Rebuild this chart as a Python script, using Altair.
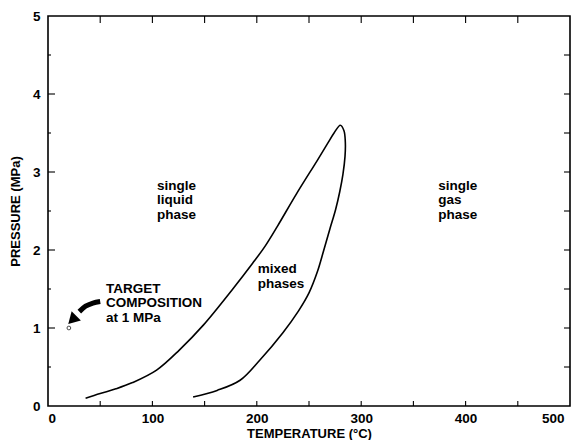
import altair as alt
import pandas as pd

# ---- data ----
curve_t = [36, 50, 65, 81, 104, 126, 149, 177, 196, 208, 220, 238, 258, 268, 274, 280,
           283.5, 284.8, 284.5, 282.5, 279.5, 275.5, 270, 264, 258, 250, 240, 225, 203, 184, 162, 139]
curve_p = [0.10, 0.16, 0.22, 0.30, 0.46, 0.72, 1.04, 1.50, 1.83, 2.05, 2.31, 2.72, 3.15, 3.37, 3.50, 3.60,
           3.53, 3.38, 3.20, 2.97, 2.75, 2.52, 2.27, 1.99, 1.72, 1.45, 1.22, 0.94, 0.59, 0.33, 0.20, 0.115]

target_t = [20]
target_p = [1.0]

arrow_t = [50, 43, 36, 30]
arrow_p = [1.34, 1.32, 1.28, 1.21]
head_t = [24.5]
head_p = [1.12]

x_label_values = [0, 100, 200, 300, 400, 500]
y_label_values = [0, 1, 2, 3, 4, 5]
x_tick_values = [50, 100, 150, 200, 250, 300, 350, 400, 450]
y_major_ticks = [1, 2, 3, 4]
y_minor_ticks = [0.5, 1.5, 2.5, 3.5, 4.5]
y_right_ticks = [0.5, 1, 1.5, 2, 2.5, 3, 3.5, 4, 4.5]

note_text = ["single\nliquid\nphase", "single\ngas\nphase", "mixed\nphases",
             "TARGET\nCOMPOSITION\nat 1 MPa"]
note_t = [104.4, 373.9, 201, 55.5]
note_p = [2.77, 2.77, 1.705, 1.453]

x_title = "TEMPERATURE (°C)"
y_title = "PRESSURE (MPa)"

W, H = 522, 390
FONT = "Liberation Sans"
xs = alt.Scale(domain=[0, 500], nice=False, zero=False)
ys = alt.Scale(domain=[0, 5], nice=False, zero=False)

x_axis = alt.Axis(values=x_label_values, ticks=False, domain=False, grid=False,
                  labelPadding=5, format="d",
                  labelOffset={"condition": {"test": "datum.value == 500", "value": -6},
                               "value": 0},
                  titleBaseline="alphabetic", titleY=31)
y_axis = alt.Axis(values=y_label_values, ticks=False, domain=False, grid=False,
                  labelPadding=8, titlePadding=10, format="d")


def X(f="t"):
    return alt.X(f + ":Q", scale=xs, title=x_title, axis=x_axis)


def Y(f="p"):
    return alt.Y(f + ":Q", scale=ys, title=y_title, axis=y_axis)


curve_df = pd.DataFrame({"t": curve_t, "p": curve_p, "o": list(range(len(curve_t)))})

curve = alt.Chart(curve_df).mark_line(
    color="black", strokeWidth=1.6, interpolate="catmull-rom"
).encode(x=X(), y=Y(), order="o:Q")

target = alt.Chart(pd.DataFrame({"t": target_t, "p": target_p})).mark_point(
    shape="circle", size=14, filled=False, color="black", strokeWidth=1
).encode(x=X(), y=Y())

arrow = alt.Chart(pd.DataFrame({"t": arrow_t, "p": arrow_p, "o": list(range(len(arrow_t)))})).mark_line(
    color="black", strokeWidth=5, interpolate="catmull-rom", strokeCap="butt"
).encode(x=X(), y=Y(), order="o:Q")

head = alt.Chart(pd.DataFrame({"t": head_t, "p": head_p})).mark_point(
    shape="triangle", angle=225, filled=True, size=170, color="black", opacity=1
).encode(x=X(), y=Y())

notes = alt.Chart(pd.DataFrame({"t": note_t, "p": note_p, "txt": note_text})).mark_text(
    align="left", baseline="alphabetic", font=FONT, fontSize=13.5, fontWeight="bold",
    lineHeight=14.5, lineBreak="\n", color="black"
).encode(x=X(), y=Y(), text="txt:N")

rule_kw = dict(color="black", strokeWidth=1.1)
top_ticks = alt.Chart(pd.DataFrame({"t": x_tick_values})).mark_rule(**rule_kw).encode(
    x=X(), y=alt.value(0), y2=alt.value(7))
bottom_ticks = alt.Chart(pd.DataFrame({"t": x_tick_values})).mark_rule(**rule_kw).encode(
    x=X(), y=alt.value(H), y2=alt.value(H - 5))
left_major = alt.Chart(pd.DataFrame({"p": y_major_ticks})).mark_rule(**rule_kw).encode(
    y=Y(), x=alt.value(0), x2=alt.value(7))
left_minor = alt.Chart(pd.DataFrame({"p": y_minor_ticks})).mark_rule(**rule_kw).encode(
    y=Y(), x=alt.value(0), x2=alt.value(3))
right_ticks = alt.Chart(pd.DataFrame({"p": y_right_ticks})).mark_rule(**rule_kw).encode(
    y=Y(), x=alt.value(W), x2=alt.value(W - 6))

chart = alt.layer(
    curve, top_ticks, bottom_ticks, left_major, left_minor, right_ticks,
    target, arrow, head, notes
).properties(
    width=W, height=H,
    autosize=alt.AutoSizeParams(type="none"),
    padding={"left": 40, "top": 8, "right": 5, "bottom": 34},
    background="white",
).configure_view(
    stroke="black", strokeWidth=1.6
).configure_axis(
    labelFont=FONT, labelFontSize=13.5, labelFontWeight="bold", labelColor="black",
    titleFont=FONT, titleFontSize=13, titleFontWeight="bold", titleColor="black",
)

chart.save("out.html", embed_options={"renderer": "svg", "actions": False})
